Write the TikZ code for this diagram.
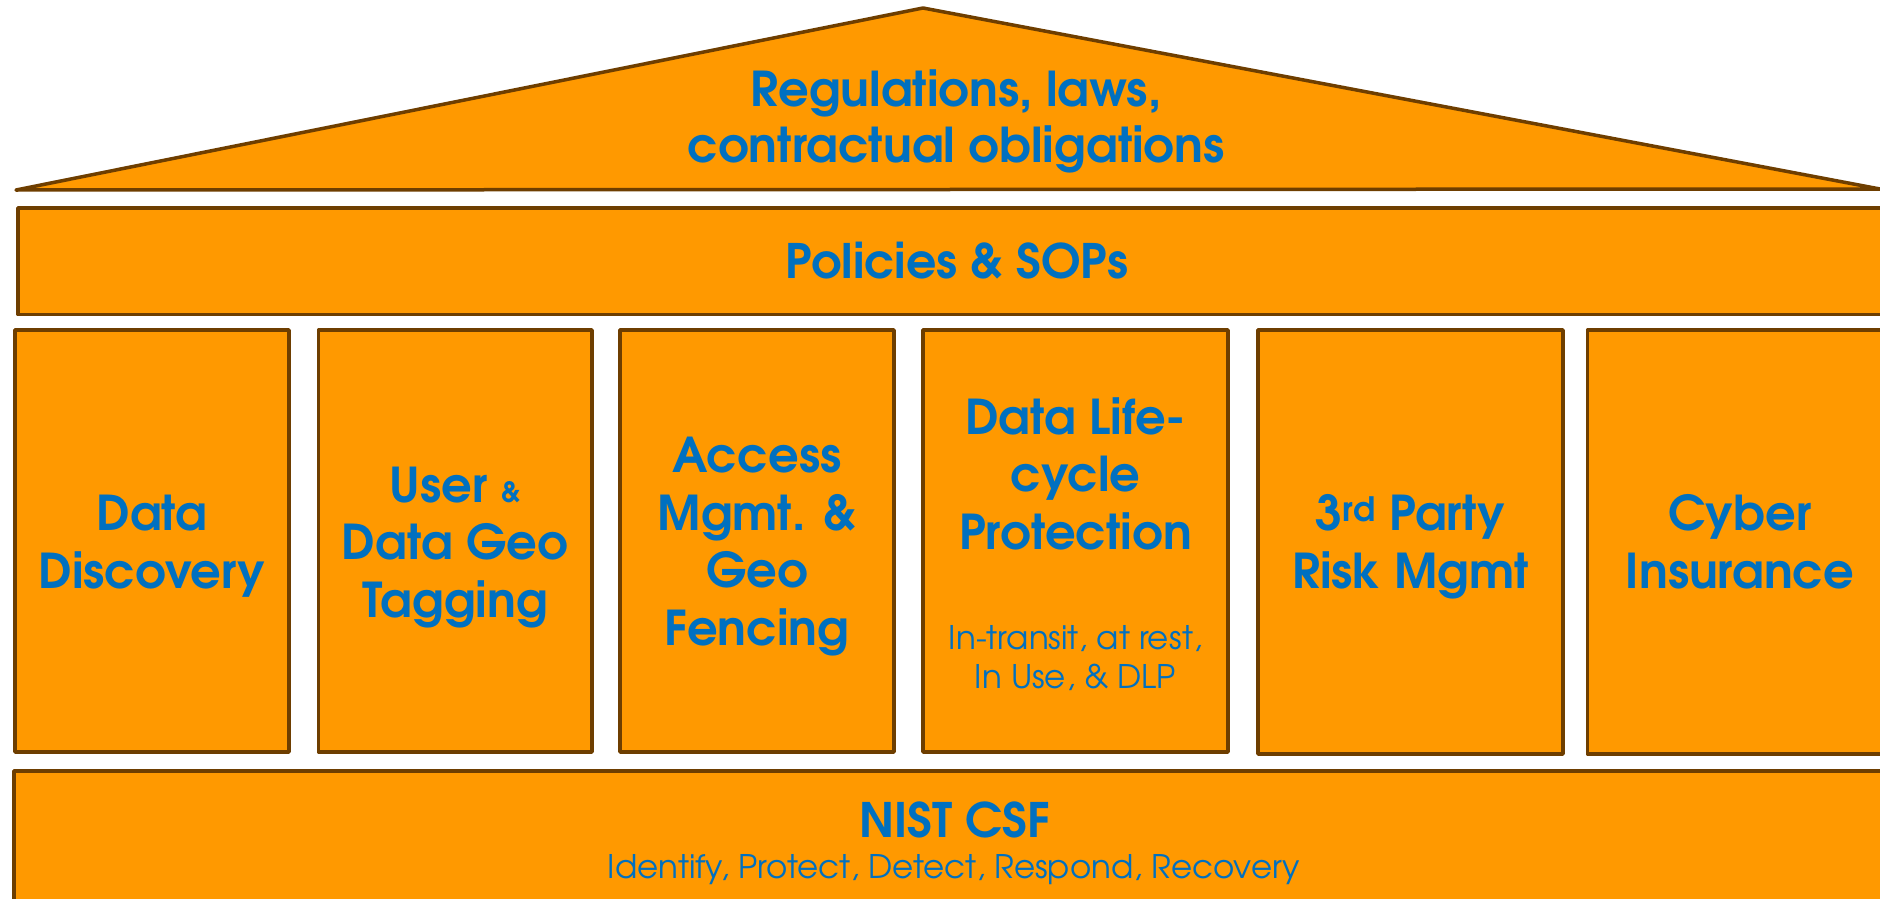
\documentclass[tikz,border=0pt]{standalone}
\usepackage{fontspec}
\setmainfont{texgyreadventor}[Extension=.otf,UprightFont=*-regular,BoldFont=*-bold,ItalicFont=*-italic,BoldItalicFont=*-bolditalic]
\definecolor{orng}{RGB}{255,153,0}
\definecolor{brn}{RGB}{110,62,0}
\definecolor{blu}{RGB}{0,112,192}
\begin{document}
\begin{tikzpicture}[x=1pt,y=-1pt,
  block/.style={fill=orng,draw=brn,line width=3.5pt,line join=round},
  big/.style={text=blu,font=\bfseries\fontsize{48}{57.5}\selectfont,align=center,anchor=base,inner sep=0pt},
  small/.style={text=blu,font=\fontsize{32.5}{39}\selectfont,align=center,anchor=base,inner sep=0pt}]
\useasboundingbox (0,0) rectangle (1880,899);
\clip (0,0) rectangle (1880,899);
% roof
\draw[block] (16,190) -- (923,8) -- (1880,189) -- cycle;
% policies
\draw[block] (18,208) rectangle (1900,314.5);
% pillars
\draw[block] (15,330) rectangle (289,752);
\draw[block] (318.5,330) rectangle (592,752);
\draw[block] (620,330) rectangle (894,752);
\draw[block] (923,330) rectangle (1228,752);
\draw[block] (1258,330) rectangle (1563,754);
\draw[block] (1587.5,330) rectangle (1900,754);
% foundation
\draw[block] (14,771) rectangle (1900,930);
% texts (anchored at the baseline of the last line)
\node[big,font=\bfseries\fontsize{48}{56}\selectfont] (reg) at (956,162) {Regulations, laws,\\contractual obligations};
\node[big,font=\bfseries\fontsize{47.5}{56}\selectfont] (pol) at (957,278) {Policies \& SOPs};
\node[big] (p1t) at (152,588) {Data\\Discovery};
\node[big] (p2t) at (455,617) {User {\fontsize{28}{30}\selectfont\&}\\Data Geo\\Tagging};
\node[big] (p3t) at (757,645) {Access\\Mgmt. \&\\Geo\\Fencing};
\node[big] (p4t) at (1075.5,549) {Data Life-\\cycle\\Protection};
\node[small] (p4s) at (1075.5,688) {In-transit, at rest,\\In Use, \& DLP};
\node[big] (p5t) at (1410.5,588) {3\textsuperscript{rd} Party\\Risk Mgmt};
\node[big] (p6t) at (1740,588) {Cyber\\Insurance};
\node[big,font=\bfseries\fontsize{47.5}{56}\selectfont] (nist) at (955,837) {NIST CSF};
\node[small] (nists) at (954,878) {Identify, Protect, Detect, Respond, Recovery};
\end{tikzpicture}
\end{document}
